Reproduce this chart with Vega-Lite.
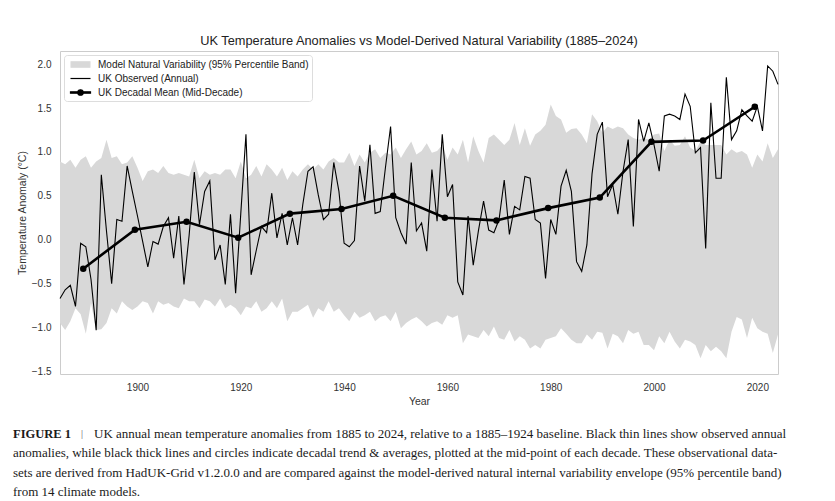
{
  "$schema": "https://vega.github.io/schema/vega-lite/v6.json",
  "background": "white",
  "padding": {"left": 13, "top": 34, "right": 5, "bottom": 0},
  "spacing": 17,
  "config": {
    "font": "Liberation Sans",
    "view": {"stroke": null},
    "axis": {
      "domain": false,
      "ticks": false,
      "grid": false,
      "labelFont": "Liberation Sans",
      "labelFontSize": 10,
      "labelColor": "#333333",
      "titleFont": "Liberation Sans",
      "titleFontSize": 10.5,
      "titleFontWeight": "normal",
      "titleColor": "#333333"
    }
  },
  "datasets": {
    "annual": [
      {"year": 1885, "obs": -0.67, "lo": -0.95, "hi": 0.89},
      {"year": 1886, "obs": -0.57, "lo": -1.03, "hi": 0.86},
      {"year": 1887, "obs": -0.52, "lo": -0.93, "hi": 0.91},
      {"year": 1888, "obs": -0.76, "lo": -0.78, "hi": 0.82},
      {"year": 1889, "obs": -0.04, "lo": -0.85, "hi": 0.91},
      {"year": 1890, "obs": -0.08, "lo": -1.07, "hi": 0.95},
      {"year": 1891, "obs": -0.45, "lo": -0.72, "hi": 0.82},
      {"year": 1892, "obs": -1.03, "lo": -1.03, "hi": 0.89},
      {"year": 1893, "obs": 0.74, "lo": -1.02, "hi": 0.93},
      {"year": 1894, "obs": 0.10, "lo": -0.95, "hi": 1.14},
      {"year": 1895, "obs": -0.50, "lo": -0.78, "hi": 0.93},
      {"year": 1896, "obs": 0.23, "lo": -0.84, "hi": 0.95},
      {"year": 1897, "obs": 0.21, "lo": -0.70, "hi": 0.86},
      {"year": 1898, "obs": 0.84, "lo": -0.76, "hi": 0.88},
      {"year": 1899, "obs": 0.55, "lo": -0.80, "hi": 0.95},
      {"year": 1900, "obs": 0.27, "lo": -0.76, "hi": 0.82},
      {"year": 1901, "obs": -0.02, "lo": -0.70, "hi": 0.67},
      {"year": 1902, "obs": -0.31, "lo": -0.72, "hi": 0.78},
      {"year": 1903, "obs": -0.02, "lo": -0.84, "hi": 0.80},
      {"year": 1904, "obs": -0.05, "lo": -0.70, "hi": 0.76},
      {"year": 1905, "obs": 0.15, "lo": -0.74, "hi": 0.84},
      {"year": 1906, "obs": 0.25, "lo": -0.72, "hi": 0.76},
      {"year": 1907, "obs": -0.21, "lo": -0.76, "hi": 0.74},
      {"year": 1908, "obs": 0.27, "lo": -0.78, "hi": 0.76},
      {"year": 1909, "obs": -0.51, "lo": -0.67, "hi": 0.74},
      {"year": 1910, "obs": 0.05, "lo": -0.70, "hi": 0.72},
      {"year": 1911, "obs": 0.77, "lo": -0.70, "hi": 0.91},
      {"year": 1912, "obs": 0.17, "lo": -0.78, "hi": 0.70},
      {"year": 1913, "obs": 0.55, "lo": -0.68, "hi": 0.78},
      {"year": 1914, "obs": 0.67, "lo": -0.70, "hi": 0.74},
      {"year": 1915, "obs": -0.23, "lo": -0.76, "hi": 0.76},
      {"year": 1916, "obs": -0.06, "lo": -0.67, "hi": 0.74},
      {"year": 1917, "obs": -0.51, "lo": -0.78, "hi": 0.80},
      {"year": 1918, "obs": 0.29, "lo": -0.74, "hi": 0.80},
      {"year": 1919, "obs": -0.61, "lo": -0.78, "hi": 0.70},
      {"year": 1920, "obs": 0.30, "lo": -0.86, "hi": 0.89},
      {"year": 1921, "obs": 1.20, "lo": -0.76, "hi": 0.70},
      {"year": 1922, "obs": -0.40, "lo": -0.78, "hi": 0.74},
      {"year": 1923, "obs": -0.12, "lo": -0.70, "hi": 0.84},
      {"year": 1924, "obs": 0.15, "lo": -0.82, "hi": 0.72},
      {"year": 1925, "obs": 0.08, "lo": -0.78, "hi": 0.86},
      {"year": 1926, "obs": 0.53, "lo": -0.70, "hi": 0.80},
      {"year": 1927, "obs": 0.02, "lo": -0.78, "hi": 0.72},
      {"year": 1928, "obs": 0.30, "lo": -0.67, "hi": 0.82},
      {"year": 1929, "obs": -0.06, "lo": -0.93, "hi": 0.68},
      {"year": 1930, "obs": 0.25, "lo": -0.82, "hi": 0.78},
      {"year": 1931, "obs": -0.06, "lo": -0.82, "hi": 0.72},
      {"year": 1932, "obs": 0.40, "lo": -0.78, "hi": 0.80},
      {"year": 1933, "obs": 0.78, "lo": -0.74, "hi": 0.86},
      {"year": 1934, "obs": 0.83, "lo": -0.89, "hi": 0.80},
      {"year": 1935, "obs": 0.51, "lo": -0.78, "hi": 0.86},
      {"year": 1936, "obs": 0.23, "lo": -0.82, "hi": 0.80},
      {"year": 1937, "obs": 0.29, "lo": -0.70, "hi": 0.89},
      {"year": 1938, "obs": 0.88, "lo": -0.82, "hi": 0.93},
      {"year": 1939, "obs": 0.55, "lo": -0.78, "hi": 0.88},
      {"year": 1940, "obs": -0.04, "lo": -0.86, "hi": 0.88},
      {"year": 1941, "obs": -0.08, "lo": -0.93, "hi": 0.99},
      {"year": 1942, "obs": -0.01, "lo": -0.82, "hi": 0.84},
      {"year": 1943, "obs": 0.84, "lo": -0.89, "hi": 0.97},
      {"year": 1944, "obs": 0.44, "lo": -0.86, "hi": 0.88},
      {"year": 1945, "obs": 1.08, "lo": -0.82, "hi": 0.99},
      {"year": 1946, "obs": 0.30, "lo": -0.93, "hi": 1.03},
      {"year": 1947, "obs": 0.32, "lo": -0.88, "hi": 0.93},
      {"year": 1948, "obs": 0.82, "lo": -0.86, "hi": 0.99},
      {"year": 1949, "obs": 1.29, "lo": -0.93, "hi": 0.97},
      {"year": 1950, "obs": 0.25, "lo": -0.82, "hi": 1.05},
      {"year": 1951, "obs": 0.08, "lo": -1.01, "hi": 0.93},
      {"year": 1952, "obs": -0.05, "lo": -0.95, "hi": 1.03},
      {"year": 1953, "obs": 0.88, "lo": -0.91, "hi": 1.12},
      {"year": 1954, "obs": 0.10, "lo": -0.88, "hi": 0.97},
      {"year": 1955, "obs": 0.19, "lo": -0.93, "hi": 1.01},
      {"year": 1956, "obs": -0.13, "lo": -0.99, "hi": 1.10},
      {"year": 1957, "obs": 0.80, "lo": -0.95, "hi": 0.99},
      {"year": 1958, "obs": 0.21, "lo": -0.93, "hi": 1.01},
      {"year": 1959, "obs": 1.20, "lo": -0.97, "hi": 1.08},
      {"year": 1960, "obs": 0.49, "lo": -0.86, "hi": 0.91},
      {"year": 1961, "obs": 0.63, "lo": -0.89, "hi": 1.05},
      {"year": 1962, "obs": -0.48, "lo": -0.86, "hi": 0.97},
      {"year": 1963, "obs": -0.63, "lo": -1.18, "hi": 1.14},
      {"year": 1964, "obs": 0.27, "lo": -1.08, "hi": 0.88},
      {"year": 1965, "obs": -0.29, "lo": -1.10, "hi": 1.18},
      {"year": 1966, "obs": 0.10, "lo": -1.12, "hi": 1.01},
      {"year": 1967, "obs": 0.44, "lo": -1.03, "hi": 0.88},
      {"year": 1968, "obs": 0.11, "lo": -1.10, "hi": 1.16},
      {"year": 1969, "obs": 0.08, "lo": -0.99, "hi": 1.20},
      {"year": 1970, "obs": 0.23, "lo": -1.12, "hi": 1.14},
      {"year": 1971, "obs": 0.68, "lo": -1.14, "hi": 1.08},
      {"year": 1972, "obs": 0.06, "lo": -1.03, "hi": 1.14},
      {"year": 1973, "obs": 0.38, "lo": -1.16, "hi": 1.33},
      {"year": 1974, "obs": 0.34, "lo": -1.10, "hi": 1.08},
      {"year": 1975, "obs": 0.72, "lo": -1.14, "hi": 1.27},
      {"year": 1976, "obs": 0.70, "lo": -1.24, "hi": 1.07},
      {"year": 1977, "obs": 0.23, "lo": -1.20, "hi": 1.20},
      {"year": 1978, "obs": 0.19, "lo": -1.24, "hi": 1.24},
      {"year": 1979, "obs": -0.44, "lo": -1.14, "hi": 1.31},
      {"year": 1980, "obs": 0.23, "lo": -1.12, "hi": 1.54},
      {"year": 1981, "obs": 0.06, "lo": -1.10, "hi": 1.41},
      {"year": 1982, "obs": 0.61, "lo": -1.01, "hi": 1.37},
      {"year": 1983, "obs": 0.79, "lo": -1.07, "hi": 1.22},
      {"year": 1984, "obs": 0.55, "lo": -1.14, "hi": 1.26},
      {"year": 1985, "obs": -0.25, "lo": -1.18, "hi": 1.27},
      {"year": 1986, "obs": -0.36, "lo": -1.18, "hi": 1.20},
      {"year": 1987, "obs": -0.06, "lo": -1.08, "hi": 1.10},
      {"year": 1988, "obs": 0.75, "lo": -1.14, "hi": 1.43},
      {"year": 1989, "obs": 1.20, "lo": -1.05, "hi": 1.35},
      {"year": 1990, "obs": 1.34, "lo": -1.06, "hi": 1.22},
      {"year": 1991, "obs": 0.49, "lo": -1.24, "hi": 1.29},
      {"year": 1992, "obs": 0.63, "lo": -1.07, "hi": 1.26},
      {"year": 1993, "obs": 0.29, "lo": -1.10, "hi": 1.29},
      {"year": 1994, "obs": 0.78, "lo": -1.18, "hi": 1.27},
      {"year": 1995, "obs": 1.14, "lo": -1.03, "hi": 1.20},
      {"year": 1996, "obs": 0.15, "lo": -1.07, "hi": 1.16},
      {"year": 1997, "obs": 1.37, "lo": -1.05, "hi": 1.14},
      {"year": 1998, "obs": 1.12, "lo": -1.20, "hi": 1.16},
      {"year": 1999, "obs": 1.33, "lo": -1.20, "hi": 1.14},
      {"year": 2000, "obs": 1.08, "lo": -1.26, "hi": 1.20},
      {"year": 2001, "obs": 0.78, "lo": -1.10, "hi": 1.21},
      {"year": 2002, "obs": 1.41, "lo": -1.18, "hi": 1.01},
      {"year": 2003, "obs": 1.43, "lo": -1.05, "hi": 1.14},
      {"year": 2004, "obs": 1.41, "lo": -1.16, "hi": 1.07},
      {"year": 2005, "obs": 1.37, "lo": -1.24, "hi": 1.08},
      {"year": 2006, "obs": 1.66, "lo": -1.14, "hi": 1.18},
      {"year": 2007, "obs": 1.52, "lo": -1.16, "hi": 1.05},
      {"year": 2008, "obs": 0.99, "lo": -1.20, "hi": 1.01},
      {"year": 2009, "obs": 1.05, "lo": -1.35, "hi": 1.12},
      {"year": 2010, "obs": -0.10, "lo": -1.20, "hi": 1.08},
      {"year": 2011, "obs": 1.56, "lo": -1.27, "hi": 1.08},
      {"year": 2012, "obs": 0.70, "lo": -1.22, "hi": 1.08},
      {"year": 2013, "obs": 0.70, "lo": -1.27, "hi": 1.08},
      {"year": 2014, "obs": 1.85, "lo": -1.35, "hi": 0.97},
      {"year": 2015, "obs": 1.14, "lo": -1.05, "hi": 1.03},
      {"year": 2016, "obs": 1.24, "lo": -0.88, "hi": 0.99},
      {"year": 2017, "obs": 1.48, "lo": -0.91, "hi": 1.01},
      {"year": 2018, "obs": 1.41, "lo": -1.12, "hi": 0.97},
      {"year": 2019, "obs": 1.35, "lo": -0.89, "hi": 0.82},
      {"year": 2020, "obs": 1.52, "lo": -1.01, "hi": 0.97},
      {"year": 2021, "obs": 1.24, "lo": -1.05, "hi": 0.89},
      {"year": 2022, "obs": 1.98, "lo": -1.07, "hi": 1.10},
      {"year": 2023, "obs": 1.92, "lo": -1.29, "hi": 0.93},
      {"year": 2024, "obs": 1.77, "lo": -1.08, "hi": 1.03}
    ],
    "decadal": [
      {"year": 1889.5, "obs": -0.33},
      {"year": 1899.5, "obs": 0.114},
      {"year": 1909.5, "obs": 0.205},
      {"year": 1919.5, "obs": 0.023},
      {"year": 1929.5, "obs": 0.297},
      {"year": 1939.5, "obs": 0.35},
      {"year": 1949.5, "obs": 0.5},
      {"year": 1959.5, "obs": 0.25},
      {"year": 1969.5, "obs": 0.22},
      {"year": 1979.5, "obs": 0.36},
      {"year": 1989.5, "obs": 0.48},
      {"year": 1999.5, "obs": 1.115},
      {"year": 2009.5, "obs": 1.13},
      {"year": 2019.5, "obs": 1.515}
    ],
    "series": [
      {"series": "Model Natural Variability (95% Percentile Band)"},
      {"series": "UK Observed (Annual)"},
      {"series": "UK Decadal Mean (Mid-Decade)"}
    ],
    "caption": [
      {"line": 1, "part": "head", "text": "FIGURE 1"},
      {"line": 1, "part": "sep", "text": "|"},
      {"line": 1, "part": "body", "text": "UK annual mean temperature anomalies from 1885 to 2024, relative to a 1885–1924 baseline. Black thin lines show observed annual"},
      {"line": 2, "part": "body", "text": "anomalies, while black thick lines and circles indicate decadal trend & averages, plotted at the mid-point of each decade. These observational data-"},
      {"line": 3, "part": "body", "text": "sets are derived from HadUK-Grid v1.2.0.0 and are compared against the model-derived natural internal variability envelope (95% percentile band)"},
      {"line": 4, "part": "body", "text": "from 14 climate models."}
    ]
  },
  "vconcat": [
    {
      "width": 718,
      "height": 323,
      "view": {"stroke": "#cccccc", "strokeWidth": 1},
      "title": {
        "text": "UK Temperature Anomalies vs Model-Derived Natural Variability (1885–2024)",
        "font": "Liberation Sans",
        "fontSize": 12.8,
        "fontWeight": "normal",
        "color": "#222222",
        "offset": 3
      },
      "layer": [
        {
          "data": {"name": "annual"},
          "mark": {"type": "area", "opacity": 1},
          "encoding": {
            "x": {
              "field": "year",
              "type": "quantitative",
              "title": "Year",
              "scale": {"domain": [1885, 2024], "nice": false, "zero": false},
              "axis": {"values": [1900, 1920, 1940, 1960, 1980, 2000, 2020], "format": "d", "labelPadding": 8, "titlePadding": 4}
            },
            "y": {
              "field": "lo",
              "type": "quantitative",
              "title": "Temperature Anomaly (°C)",
              "scale": {"domain": [-1.53, 2.15], "nice": false, "zero": false},
              "axis": {"values": [-1.5, -1, -0.5, 0, 0.5, 1, 1.5, 2], "format": ".1f", "labelPadding": 9, "titlePadding": 3.5}
            },
            "y2": {"field": "hi"},
            "color": {"value": "#d8d8d8"}
          }
        },
        {
          "data": {"name": "annual"},
          "mark": {"type": "line", "strokeWidth": 1.1, "color": "#000000"},
          "encoding": {
            "x": {"field": "year", "type": "quantitative", "title": "Year"},
            "y": {"field": "obs", "type": "quantitative", "title": "Temperature Anomaly (°C)"}
          }
        },
        {
          "data": {"name": "decadal"},
          "mark": {"type": "line", "strokeWidth": 2.6, "color": "#000000"},
          "encoding": {
            "x": {"field": "year", "type": "quantitative", "title": "Year"},
            "y": {"field": "obs", "type": "quantitative", "title": "Temperature Anomaly (°C)"}
          }
        },
        {
          "data": {"name": "decadal"},
          "mark": {"type": "point", "filled": true, "size": 42, "opacity": 1, "color": "#000000"},
          "encoding": {
            "x": {"field": "year", "type": "quantitative", "title": "Year"},
            "y": {"field": "obs", "type": "quantitative", "title": "Temperature Anomaly (°C)"}
          }
        },
        {
          "data": {"name": "series"},
          "mark": {"type": "point", "filled": false, "strokeWidth": 1.2},
          "encoding": {
            "opacity": {"value": 0},
            "color": {
              "field": "series",
              "type": "nominal",
              "scale": {
                "domain": ["Model Natural Variability (95% Percentile Band)", "UK Observed (Annual)", "UK Decadal Mean (Mid-Decade)"],
                "range": ["#d8d8d8", "#000000", "#000000"]
              },
              "legend": {
                "title": null,
                "orient": "top-left",
                "offset": 4,
                "padding": 3,
                "fillColor": "rgba(255,255,255,0.85)",
                "strokeColor": "#dddddd",
                "cornerRadius": 3,
                "labelFont": "Liberation Sans",
                "labelFontSize": 10,
                "labelColor": "#222222",
                "labelLimit": 400,
                "labelOffset": 11,
                "symbolOffset": 7,
                "symbolSize": 121,
                "symbolStrokeWidth": 1.2,
                "symbolOpacity": 1,
                "rowPadding": 2
              }
            },
            "fill": {
              "field": "series",
              "type": "nominal",
              "scale": {
                "domain": ["Model Natural Variability (95% Percentile Band)", "UK Observed (Annual)", "UK Decadal Mean (Mid-Decade)"],
                "range": ["#d8d8d8", "#000000", "#000000"]
              },
              "legend": {
                "title": null,
                "orient": "top-left",
                "offset": 4,
                "padding": 3,
                "fillColor": "rgba(255,255,255,0.85)",
                "strokeColor": "#dddddd",
                "cornerRadius": 3,
                "labelFont": "Liberation Sans",
                "labelFontSize": 10,
                "labelColor": "#222222",
                "labelLimit": 400,
                "labelOffset": 11,
                "symbolOffset": 7,
                "symbolSize": 121,
                "symbolStrokeWidth": 1.2,
                "symbolOpacity": 1,
                "rowPadding": 2
              }
            },
            "shape": {
              "field": "series",
              "type": "nominal",
              "scale": {
                "domain": ["Model Natural Variability (95% Percentile Band)", "UK Observed (Annual)", "UK Decadal Mean (Mid-Decade)"],
                "range": [
                  "M-1.71,-0.5H1.71V0.5H-1.71Z",
                  "M-1.82,0H1.82",
                  "M-1.82,-0.13H1.82V0.13H-1.82ZM0.5,0A0.5,0.5,0,1,1,-0.5,0A0.5,0.5,0,1,1,0.5,0Z"
                ]
              },
              "legend": {
                "title": null,
                "orient": "top-left",
                "offset": 4,
                "padding": 3,
                "fillColor": "rgba(255,255,255,0.85)",
                "strokeColor": "#dddddd",
                "cornerRadius": 3,
                "labelFont": "Liberation Sans",
                "labelFontSize": 10,
                "labelColor": "#222222",
                "labelLimit": 400,
                "labelOffset": 11,
                "symbolOffset": 7,
                "symbolSize": 121,
                "symbolStrokeWidth": 1.2,
                "symbolOpacity": 1,
                "rowPadding": 2
              }
            }
          }
        }
      ]
    },
    {
      "width": 790,
      "height": 78,
      "data": {"name": "caption"},
      "encoding": {
        "x": {"datum": 0, "type": "quantitative", "scale": {"domain": [0, 1]}, "axis": null},
        "y": {"field": "line", "type": "ordinal", "axis": null, "scale": {"domain": [1, 2, 3, 4]}},
        "text": {"field": "text"}
      },
      "layer": [
        {
          "transform": [{"filter": "datum.part === 'head'"}],
          "mark": {"type": "text", "font": "Liberation Serif", "fontSize": 12.5, "fontWeight": "bold", "align": "left", "baseline": "middle", "color": "#1a1a1a", "dx": -47}
        },
        {
          "transform": [{"filter": "datum.part === 'sep'"}],
          "mark": {"type": "text", "font": "Liberation Serif", "fontSize": 10, "align": "left", "baseline": "middle", "color": "#555555", "dx": 21}
        },
        {
          "transform": [{"filter": "datum.part === 'body' && datum.line === 1"}],
          "mark": {"type": "text", "font": "Liberation Serif", "fontSize": 13, "align": "left", "baseline": "middle", "color": "#1a1a1a", "dx": 34}
        },
        {
          "transform": [{"filter": "datum.part === 'body' && datum.line > 1"}],
          "mark": {"type": "text", "font": "Liberation Serif", "fontSize": 13, "align": "left", "baseline": "middle", "color": "#1a1a1a", "dx": -47}
        }
      ]
    }
  ]
}
